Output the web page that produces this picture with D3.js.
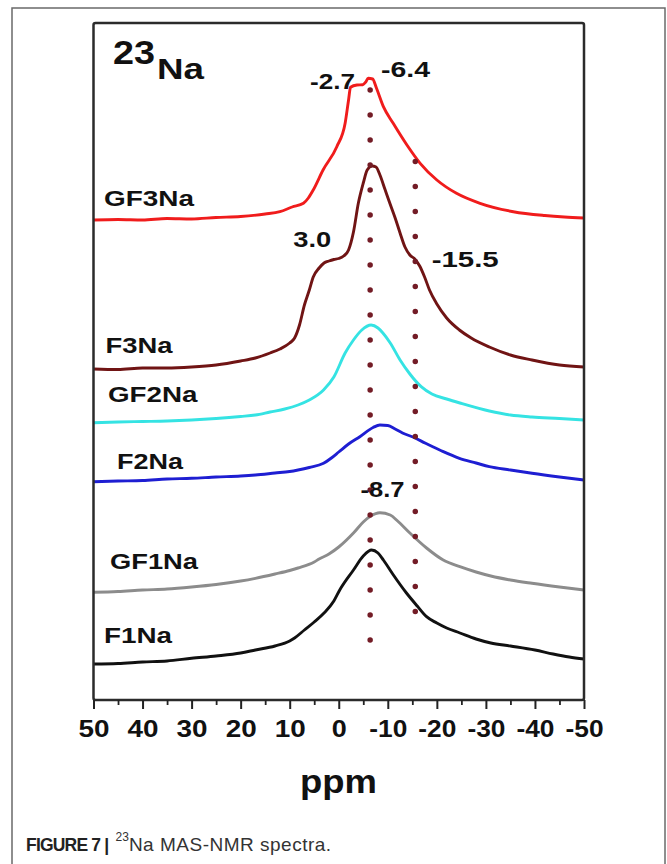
<!DOCTYPE html>
<html><head><meta charset="utf-8">
<script src="https://cdn.jsdelivr.net/npm/d3@7"></script>
<style>
html,body{margin:0;padding:0;background:#fff;}
svg{display:block;}
text{font-family:"Liberation Sans",Arial,Helvetica,sans-serif;}
</style></head><body>
<script>
// ---------------- data (ppm, stacked intensity a.u.) ----------------
const ppmTicks   = [50,40,30,20,10,0,-10,-20,-30,-40,-50];
const minorTicks = [45,35,25,15,5,-5,-15,-25,-35,-45];

const GF3Na = [[50,480],[45,480.5],[40,480],[35,481.5],[30,481],[25,482.5],[20,483.5],[15,486],[12,488.3],[9.5,493],[7.2,496.7],[6.2,502],[5.2,510],[3.2,530],[0.4,553.3],[-1.3,576.7],[-2.0,600],[-2.4,612.7],[-3.7,615],[-4.9,615.3],[-5.5,618],[-6.0,621.7],[-6.9,621],[-7.7,611.7],[-9.1,593.3],[-11.1,576.7],[-13.9,555],[-16.6,536.7],[-20,520],[-24,506.7],[-28.8,496.7],[-35.6,488.3],[-42,484.5],[-46,483],[-50,482]];
const F3Na = [[50,331],[45,330.5],[40,332],[35,332],[30,333],[25,335],[20,339],[17,342],[14,347],[12,351],[10,357],[9,362],[8,375],[7,395],[6,410],[5.2,423],[4,432],[3,437],[2,439],[1,440.5],[0,441.5],[-1,444],[-2,450],[-3,468],[-4,497],[-5,517],[-5.8,530],[-6.8,534],[-7.6,533],[-8.4,525],[-9.4,511],[-10.4,497],[-11.5,482],[-12.5,467],[-13.5,453],[-14.5,445],[-15.5,441],[-16.5,434],[-17.5,423],[-18.5,410],[-20,396],[-22,382],[-24.6,370],[-27,362],[-30.7,353],[-35,345],[-39.4,340],[-45,335],[-50,333]];
const GF2Na = [[50,277.3],[45,278],[40,278.5],[35,279],[30,280],[25,281.5],[20,283.5],[17,285],[14,288],[11,291],[8.3,295],[6,300],[3.1,310],[1,323],[-1.3,347],[-3,360],[-4.7,370],[-6.6,375],[-8,372],[-9,367],[-10.5,357],[-12.5,340],[-14.5,326],[-16.8,313.3],[-19,306],[-22,301],[-24.7,297],[-30.7,289],[-35,285],[-39.4,283],[-45,281.5],[-50,280]];
const F2Na = [[50,218.3],[45,219],[40,219.5],[35,221],[30,221.7],[25,223],[20,224],[17,225],[13,227],[10,228.5],[8.3,230],[6,232.5],[3.1,236.7],[1.5,242],[0,248],[-2,256],[-4.3,263.3],[-7,272.5],[-8.4,275],[-10,274.5],[-11.5,271],[-13,267],[-15.1,263],[-17.7,256.7],[-21,249],[-24.6,241.7],[-28,237],[-30.7,233.3],[-35,230],[-39.4,226.7],[-45,223],[-50,220]];
const GF1Na = [[50,107.7],[45,108.5],[40,110],[35,111],[30,113],[25,115.5],[20,119],[17,121.7],[13,126],[10,129.5],[8.3,132],[5,138],[4,141],[2,146],[0,153],[-3,167],[-5,178],[-6.5,184],[-8.4,187.3],[-10.5,185],[-12,179],[-14.5,167],[-17.9,152],[-21.3,140],[-24.7,133.3],[-28,128],[-31,124],[-35,120],[-39.4,116.7],[-45,113],[-50,110]];
const F1Na = [[50,36],[45,36.5],[40,38],[35,39],[30,41.7],[25,44],[20,47],[17,50],[13,54],[10,59],[9,62],[7,70],[5,78],[3,87],[1,99],[-0.2,110],[-3,130],[-5,144],[-6.7,150],[-8,147],[-9.1,140],[-11,126],[-13.8,107],[-16,94],[-17.9,83.3],[-20,77],[-22,72],[-24.7,67],[-28,61],[-31,57],[-35,54],[-40,50],[-43.7,46],[-47,43],[-50,41]];

const seriesNames  = ["GF3Na","F3Na","GF2Na","F2Na","GF1Na","F1Na"];
const seriesData   = [GF3Na, F3Na, GF2Na, F2Na, GF1Na, F1Na];

// dotted guide lines: ppm position and intensity extent
const guidePpm    = [-6.4, -15.6];
const guideTop    = [610, 538.5];
const guideBottom = [35, 63.5];

const peakLabels = ["-2.7","-6.4","3.0","-15.5","-8.7"];

// ---------------- layout / style ----------------
const W = 667, H = 864;
const colors = ["#f01c1c","#701414","#35e3e3","#1e1ed2","#8c8c8c","#111111"];
const labelPos = [[104,206,90],[105.5,353,67],[108,402,89.5],[117,469,66],[110,569,88],[104,643,68]];
const peakPos  = [[310,89,45],[381,76.7,49],[293.3,246.7,38],[431.7,266.7,67],[360.5,496.7,44]];

const svg = d3.select("body").append("svg").attr("width", W).attr("height", H);

svg.append("rect").attr("x",12).attr("y",8).attr("width",653).attr("height",880)
  .attr("fill","none").attr("stroke","#6a6a6a").attr("stroke-width",1.5);

const x = d3.scaleLinear().domain([50,-50]).range([93.5,584]);
const y = d3.scaleLinear().domain([0,677]).range([700,23]);

const line = d3.line().x(d => x(d[0])).y(d => y(d[1])).curve(d3.curveMonotoneX);

svg.selectAll("path.spec").data(seriesData).enter().append("path")
  .attr("class","spec")
  .attr("d", d => line(d))
  .attr("fill","none")
  .attr("stroke",(d,i) => colors[i])
  .attr("stroke-width",2.9)
  .attr("stroke-linejoin","round");

// dotted guides
svg.selectAll("line.guide").data(guidePpm).enter().append("line")
  .attr("class","guide")
  .attr("x1", d => x(d)).attr("x2", d => x(d))
  .attr("y1", (d,i) => y(guideTop[i])).attr("y2", (d,i) => y(guideBottom[i]))
  .attr("stroke","#731c26").attr("stroke-width",5.5)
  .attr("stroke-linecap","round").attr("stroke-dasharray","0,25");

// frame
svg.append("rect").attr("x",93.5).attr("y",23).attr("width",490.5).attr("height",677)
  .attr("rx",2).attr("fill","none").attr("stroke","#2b2b2b").attr("stroke-width",2.5);

// axes
const ax = svg.append("g").attr("transform","translate(0,700)")
  .call(d3.axisBottom(x).tickValues(ppmTicks).tickSize(9).tickPadding(11).tickFormat(d => String(d)));
ax.select(".domain").remove();
ax.selectAll(".tick line").attr("stroke","#222").attr("stroke-width",2);
ax.selectAll(".tick text").attr("font-size",24).attr("font-weight","bold").attr("fill","#111")
  .attr("textLength", d => d === 0 ? 15 : (d > 0 ? 31 : 38))
  .attr("lengthAdjust","spacingAndGlyphs");

const axm = svg.append("g").attr("transform","translate(0,700)")
  .call(d3.axisBottom(x).tickValues(minorTicks).tickSize(5).tickFormat(""));
axm.select(".domain").remove();
axm.selectAll(".tick line").attr("stroke","#222").attr("stroke-width",1.8);

// axis title
svg.append("text").attr("x",338.5).attr("y",793).attr("text-anchor","middle")
  .attr("font-size",34).attr("font-weight","bold").attr("fill","#111")
  .attr("textLength",77).attr("lengthAdjust","spacingAndGlyphs").text("ppm");

// nucleus label
svg.append("text").attr("x",113).attr("y",64).attr("font-size",34).attr("font-weight","bold")
  .attr("fill","#111").attr("textLength",42).attr("lengthAdjust","spacingAndGlyphs").text("23");
svg.append("text").attr("x",157).attr("y",79).attr("font-size",29).attr("font-weight","bold")
  .attr("fill","#111").attr("textLength",47).attr("lengthAdjust","spacingAndGlyphs").text("Na");

// series labels
svg.selectAll("text.slab").data(seriesNames).enter().append("text")
  .attr("class","slab")
  .attr("x",(d,i) => labelPos[i][0]).attr("y",(d,i) => labelPos[i][1])
  .attr("textLength",(d,i) => labelPos[i][2]).attr("lengthAdjust","spacingAndGlyphs")
  .attr("font-size",22).attr("font-weight","bold").attr("fill","#111")
  .text(d => d);

// peak labels
svg.selectAll("text.plab").data(peakLabels).enter().append("text")
  .attr("class","plab")
  .attr("x",(d,i) => peakPos[i][0]).attr("y",(d,i) => peakPos[i][1])
  .attr("textLength",(d,i) => peakPos[i][2]).attr("lengthAdjust","spacingAndGlyphs")
  .attr("font-size",22).attr("font-weight","bold").attr("fill","#111")
  .text(d => d);

// caption (single text element with tspans)
const cap = svg.append("text").attr("x",26).attr("y",851).attr("fill","#333");
cap.append("tspan").attr("font-size",17.5).attr("font-weight","bold").attr("fill","#222")
  .style("letter-spacing","-0.8px").text("FIGURE 7 | ");
cap.append("tspan").attr("font-size",12).attr("dy",-10).attr("dx",3).text("23");
cap.append("tspan").attr("font-size",19).attr("dy",10).style("letter-spacing","0.5px").text("Na MAS-NMR spectra.");
</script>
</body></html>
